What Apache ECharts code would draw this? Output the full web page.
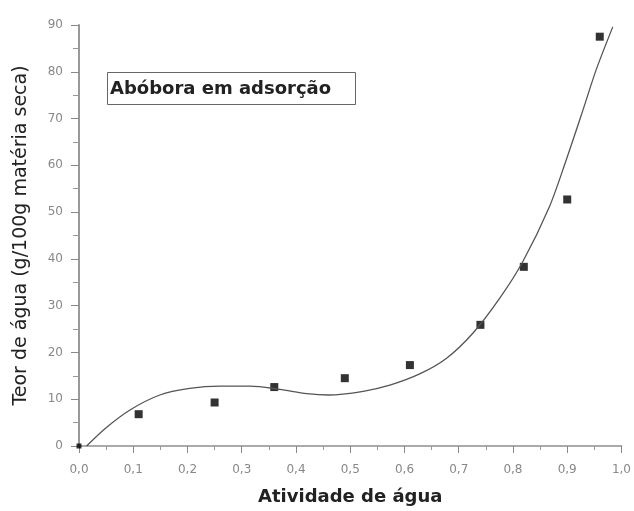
<!DOCTYPE html>
<html lang="pt-BR">
<head>
  <meta http-equiv="Content-Type" content="text/html; charset=UTF-8">
  <title>Abóbora em adsorção</title>
  <style>
    html, body {
      padding: 0;
      margin: 0;
      background: #fff;
    }
    #myChart {
      width: 634px;
      height: 511px;
    }
  </style>
</head>
<body>
  <div id="myChart"></div>
  <script src="https://cdn.jsdelivr.net/npm/echarts@6/dist/echarts.min.js"></script>
  <script>
    // pontos experimentais (aw, teor de água)
    const awPontos = [0, 0.11, 0.25, 0.36, 0.49, 0.61, 0.74, 0.82, 0.90, 0.96];
    const teorPontos = [0, 6.8, 9.3, 12.6, 14.5, 17.3, 25.9, 38.3, 52.7, 87.5];
    // curva ajustada
    const awCurva = [0.014, 0.05, 0.094, 0.149, 0.204, 0.26, 0.315, 0.37, 0.42, 0.46, 0.524, 0.573, 0.628, 0.677, 0.726, 0.775, 0.818, 0.867, 0.898, 0.929, 0.953, 0.984];
    const teorCurva = [0, 3.9, 7.7, 10.9, 12.3, 12.8, 12.8, 12.1, 11.2, 10.9, 11.7, 13.0, 15.4, 18.7, 24.1, 31.5, 39.4, 51.1, 61.1, 71.8, 80.3, 89.6];
    const rotulo = 'Abóbora em adsorção';

    const myChart = echarts.init(document.getElementById('myChart'));
    const fonte = 'DejaVu Sans';
    const option = {
      backgroundColor: '#fff',
      animation: false,
      title: {
        text: rotulo,
        left: 107,
        top: 72,
        padding: [8, 25, 7, 3],
        borderWidth: 1,
        borderColor: '#666',
        textStyle: {
          fontFamily: fonte,
          fontSize: 18,
          fontWeight: 'bold',
          color: '#222',
        },
      },
      grid: {
        left: 79,
        right: 12,
        top: 25,
        bottom: 65,
      },
      xAxis: {
        type: 'value',
        min: 0,
        max: 1,
        interval: 0.1,
        name: 'Atividade de água',
        nameLocation: 'middle',
        nameGap: 42,
        nameTextStyle: {
          fontFamily: fonte,
          fontSize: 18,
          fontWeight: 'bold',
          color: '#222',
        },
        axisLine: { lineStyle: { color: '#aaa', width: 2 } },
        axisTick: { length: 7, lineStyle: { color: '#888' } },
        minorTick: { show: true, splitNumber: 2, length: 4, lineStyle: { color: '#999' } },
        splitLine: { show: false },
        axisLabel: {
          margin: 18,
          fontFamily: fonte,
          fontSize: 12,
          color: '#888',
          formatter: (v) => v.toFixed(1).replace('.', ','),
        },
      },
      yAxis: {
        type: 'value',
        min: 0,
        max: 90,
        interval: 10,
        name: 'Teor de água (g/100g matéria seca)',
        nameLocation: 'middle',
        nameGap: 48,
        nameTextStyle: {
          fontFamily: fonte,
          fontSize: 19,
          color: '#222',
        },
        axisLine: { show: true, lineStyle: { color: '#999', width: 2 } },
        axisTick: { show: true, length: 8, lineStyle: { color: '#888' } },
        minorTick: { show: true, splitNumber: 2, length: 6, lineStyle: { color: '#999' } },
        splitLine: { show: false },
        axisLabel: {
          margin: 16,
          fontFamily: fonte,
          fontSize: 12,
          color: '#888',
        },
      },
      series: [{
        type: 'line',
        data: awCurva.map((x, i) => [x, teorCurva[i]]),
        smooth: 0.3,
        showSymbol: false,
        lineStyle: { color: '#555', width: 1.3 },
      }, {
        type: 'scatter',
        symbol: 'rect',
        symbolSize: (v) => (v[0] === 0 ? 5 : 8),
        itemStyle: { color: '#000' },
        data: awPontos.map((x, i) => [x, teorPontos[i]]),
      }],
    };
    myChart.setOption(option);
  </script>
</body>
</html>
